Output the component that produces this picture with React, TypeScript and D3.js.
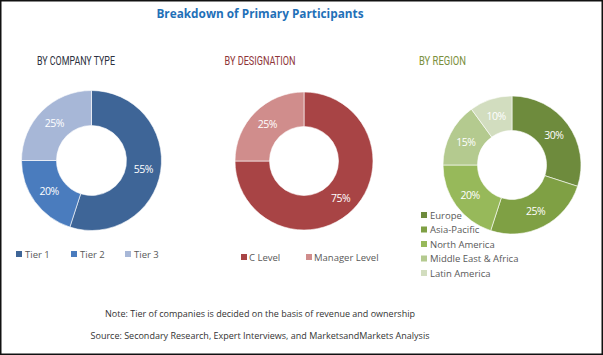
import React from "react";
import * as d3 from "d3";

const W = 603;
const H = 355;

const companyLabels = ["Tier 1", "Tier 2", "Tier 3"];
const companyValues = [55, 20, 25];
const companyColors = ["#3E6597", "#4A7CBE", "#A7B7D7"];

const designationLabels = ["C Level", "Manager Level"];
const designationValues = [75, 25];
const designationColors = ["#A84445", "#D08D8C"];

const regionLabels = ["Europe", "Asia-Pacific", "North America", "Middle East & Africa", "Latin America"];
const regionValues = [30, 25, 20, 15, 10];
const regionColors = ["#6E8B3D", "#7FA044", "#97B95A", "#B4CA8F", "#D2DDBF"];

const titleText = "Breakdown of Primary Participants";
const noteText = "Note: Tier of companies is decided on the basis of revenue and ownership";
const sourceText = "Source: Secondary Research, Expert Interviews, and MarketsandMarkets Analysis";

const bodyFont = "'Open Sans', 'Noto Sans', sans-serif";
const headFont = "Roboto, 'Noto Sans', sans-serif";

type DonutProps = {
  cx: number;
  cy: number;
  r: number;
  values: number[];
  colors: string[];
};

function Donut({ cx, cy, r, values, colors }: DonutProps) {
  const pie = d3.pie<number>().sort(null).value((d) => d);
  const arcs = pie(values);
  const inner = r * 0.5;
  const arc = d3.arc<d3.PieArcDatum<number>>().innerRadius(inner).outerRadius(r);
  const labelArc = d3.arc<d3.PieArcDatum<number>>().innerRadius((inner + r) / 2).outerRadius((inner + r) / 2);
  return (
    <g transform={`translate(${cx},${cy})`}>
      {arcs.map((a, i) => (
        <path key={i} d={arc(a) || ""} fill={colors[i]} stroke="#ffffff" strokeWidth={0.6} />
      ))}
      {arcs.map((a, i) => {
        const [x, y] = labelArc.centroid(a);
        return (
          <text
            key={"t" + i}
            x={x}
            y={y}
            textAnchor="middle"
            dominantBaseline="central"
            fill="#ffffff"
            fontFamily={bodyFont}
            fontSize={10.5}
            letterSpacing={-0.5}
          >
            {a.data}%
          </text>
        );
      })}
    </g>
  );
}

function Header({ x, text, len, color }: { x: number; text: string; len: number; color: string }) {
  return (
    <text
      x={x - len / 2}
      y={65}
      fontFamily={headFont}
      fontWeight={400}
      fontSize={12}
      fill={color}
      textLength={len}
      lengthAdjust="spacingAndGlyphs"
    >
      {text}
    </text>
  );
}

export default function App() {
  return (
    <svg width={W} height={H} style={{ position: "absolute", left: 0, top: 0, background: "#fff" }}>
      <rect x={0.75} y={0.75} width={W - 1.5} height={H - 1.5} fill="#ffffff" stroke="#111" strokeWidth={1.5} />
      <text x={260} y={18} textAnchor="middle" fontFamily={bodyFont} fontWeight={700} fontSize={11.8} fill="#1F70B8">
        {titleText}
      </text>

      <Header x={76} text="BY COMPANY TYPE" len={78} color="#2B3140" />
      <Header x={260} text="BY DESIGNATION" len={71} color="#8E3538" />
      <Header x={442.5} text="BY REGION" len={47} color="#7A8F3C" />

      <Donut cx={91.5} cy={160.5} r={70} values={companyValues} colors={companyColors} />
      <Donut cx={304} cy={161} r={69} values={designationValues} colors={designationColors} />
      <Donut cx={512} cy={165} r={69} values={regionValues} colors={regionColors} />

      {companyLabels.map((l, i) => {
        const xs = [16, 71, 125];
        return (
          <g key={l}>
            <rect x={xs[i]} y={251} width={6} height={6} fill={companyColors[i]} />
            <text x={xs[i] + 9} y={258} fontFamily={bodyFont} fontSize={9.5} fill="#595959">
              {l}
            </text>
          </g>
        );
      })}

      {designationLabels.map((l, i) => {
        const xs = [241, 306];
        return (
          <g key={l}>
            <rect x={xs[i]} y={254} width={6} height={6} fill={designationColors[i]} />
            <text x={xs[i] + 8} y={261} fontFamily={bodyFont} fontSize={9.5} fill="#595959">
              {l}
            </text>
          </g>
        );
      })}

      {regionLabels.map((l, i) => {
        const y = 215 + i * 14.5;
        return (
          <g key={l}>
            <rect x={421} y={y - 3} width={6} height={6} fill={regionColors[i]} />
            <text x={430} y={y + 3.5} fontFamily={bodyFont} fontSize={9.5} fill="#595959">
              {l}
            </text>
          </g>
        );
      })}

      <text x={260} y={317} textAnchor="middle" fontFamily={bodyFont} fontSize={9} fill="#333">
        {noteText}
      </text>
      <text x={260} y={339} textAnchor="middle" fontFamily={bodyFont} fontSize={9} fill="#333">
        {sourceText}
      </text>
    </svg>
  );
}
